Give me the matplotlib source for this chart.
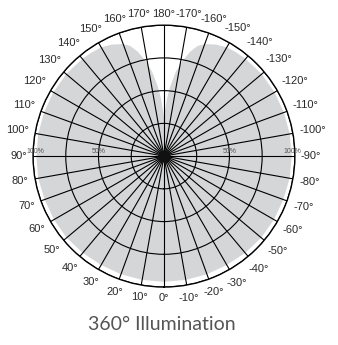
import numpy as np
import matplotlib
matplotlib.use("Agg")
import matplotlib.pyplot as plt

# Angular distribution (degrees, one half; mirrored for negative angles)
half_angles = [0, 10, 20, 30, 40, 50, 60, 70, 80, 90, 100, 110, 120, 130, 140,
               145, 150, 155, 160, 163, 166, 169, 172, 175, 177, 178, 179, 180]
half_values = [0.96, 0.96, 0.96, 0.96, 0.965, 0.97, 0.97, 0.97, 0.975, 0.975,
               0.975, 0.975, 0.975, 0.975, 0.97, 0.965, 0.96, 0.94, 0.91, 0.88,
               0.82, 0.74, 0.65, 0.53, 0.44, 0.38, 0.34, 0.30]

ring_levels = [0.25, 0.5, 0.75, 1.0]
angle_ticks = list(range(-170, 190, 10))
angle_labels = [f"{a}°" for a in angle_ticks]
pct_labels = {"100%": 0.985, "50%": 0.5}
title = "360° Illumination"

ang = np.array(half_angles + [360 - a for a in reversed(half_angles[:-1])], dtype=float)
val = np.array(half_values + list(reversed(half_values[:-1])))

DPI = 100
fig = plt.figure(figsize=(3.38, 3.45), dpi=DPI)
ax = fig.add_axes([0.0976, 0.168, 0.775, 0.759], projection="polar")
ax.set_theta_zero_location("S")
ax.set_theta_direction(-1)
ax.set_ylim(0, 1)

ax.fill(np.radians(ang), val, color="#d5d6d8", lw=0, zorder=1)

ax.set_thetagrids(range(0, 360, 10), labels=[])
ax.set_rgrids(ring_levels, labels=[])
ax.grid(True, color="black", lw=0.8)
ax.spines["polar"].set_color("black")
ax.spines["polar"].set_linewidth(1.0)
ax.tick_params(length=0)
ax.plot([0], [0], "o", color="#111111", ms=8, zorder=5, clip_on=False)

renderer = fig.canvas.get_renderer()
gap_pt = 4.3
for a, lab in zip(angle_ticks, angle_labels):
    th = np.radians(a)
    ux, uy = -np.sin(th), -np.cos(th)
    t = ax.annotate(lab, xy=(th, 1.0), xytext=(0, 0), textcoords="offset points",
                    ha="center", va="center", fontsize=8,
                    family="Liberation Sans", color="#2a2a2a",
                    annotation_clip=False)
    bb = t.get_window_extent(renderer)
    w_pt = bb.width * 72 / DPI
    h_pt = bb.height * 72 / DPI
    d = gap_pt + 0.5 * abs(w_pt * ux) + 0.5 * abs(h_pt * uy)
    t.xyann = (d * ux, d * uy)

for lab, r in pct_labels.items():
    for thd in (90, 270):
        ax.text(np.radians(thd) + (0.035 if thd == 90 else -0.035) / r, r, lab,
                ha="center", va="center", fontsize=5, family="Liberation Sans",
                color="#555555", clip_on=False)

fig.text(0.48, 0.058, title, ha="center", va="center", fontsize=14,
         family="Lato", color="#555555")

fig.savefig("out.png", dpi=DPI)
